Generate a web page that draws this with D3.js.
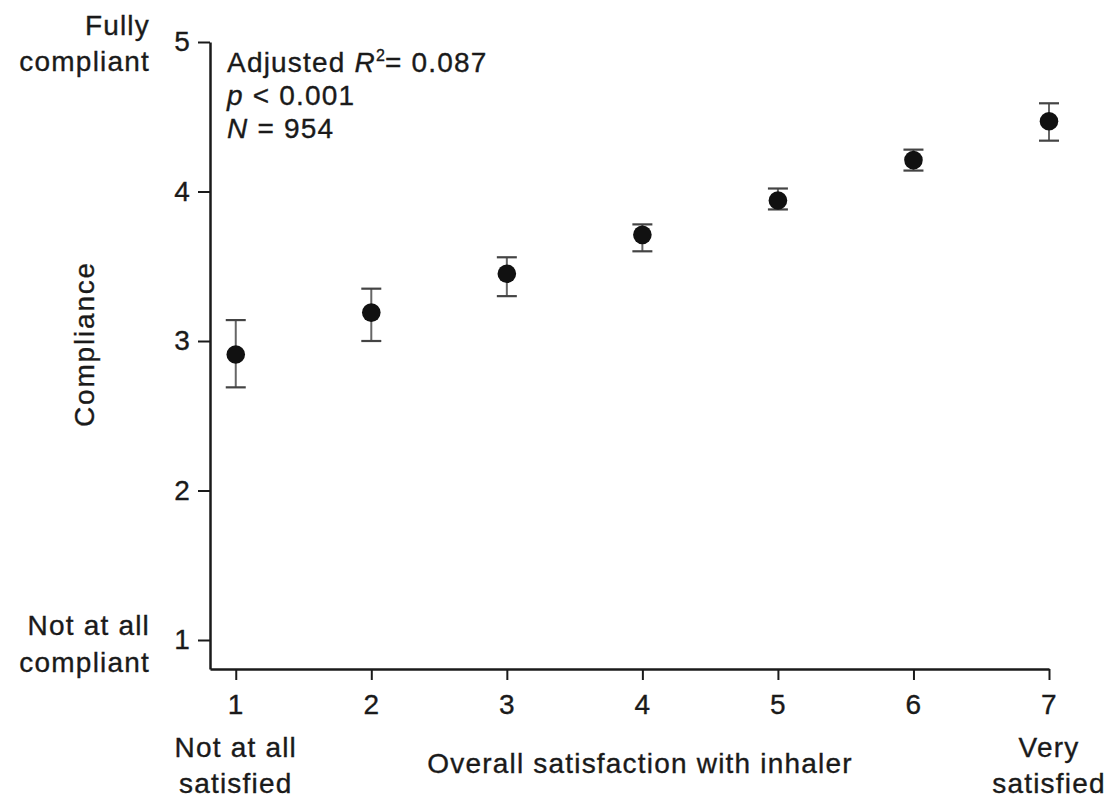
<!DOCTYPE html>
<html>
<head>
<meta charset="utf-8">
<script src="https://cdn.jsdelivr.net/npm/d3@7"></script>
<style>
  html, body { margin: 0; padding: 0; background: #fff; }
  svg { display: block; }
  text { font-family: "Liberation Sans", Arial, Helvetica, sans-serif; fill: #1a1a1a; stroke: #1a1a1a; stroke-width: 0.35px; }
</style>
</head>
<body>
<svg id="chart" width="1111" height="799"></svg>
<script>
// Satisfaction levels (1 = not at all satisfied ... 7 = very satisfied)
const satisfaction = [1, 2, 3, 4, 5, 6, 7];
// Mean compliance score for each satisfaction level
const meanCompliance = [2.91, 3.19, 3.45, 3.71, 3.94, 4.21, 4.47];
// Confidence interval bounds
const ciLower = [2.69, 3.00, 3.30, 3.60, 3.88, 4.14, 4.34];
const ciUpper = [3.14, 3.35, 3.56, 3.78, 4.02, 4.28, 4.59];
// Axis ticks
const xTicks = [1, 2, 3, 4, 5, 6, 7];
const yTicks = [1, 2, 3, 4, 5];

const FS = 28;
const LS = "1.2px";
const ink = "#1a1a1a";

const svg = d3.select("#chart");

const x = d3.scaleLinear().domain([0.81, 7]).range([210, 1049]);
const y = d3.scaleLinear().domain([0.806, 5]).range([669, 42]);

// Axes
const yAxis = svg.append("g")
  .attr("transform", `translate(${x.range()[0]},0)`)
  .call(d3.axisLeft(y).tickValues(yTicks).tickFormat(d3.format("d"))
    .tickSize(12).tickSizeOuter(0).tickPadding(7));
const xAxis = svg.append("g")
  .attr("transform", `translate(0,${y.range()[0]})`)
  .call(d3.axisBottom(x).tickValues(xTicks).tickFormat(d3.format("d"))
    .tickSize(11).tickSizeOuter(0).tickPadding(14));

[yAxis, xAxis].forEach(g => {
  g.select(".domain").attr("stroke", ink).attr("stroke-width", 2.5);
  g.selectAll(".tick line").attr("stroke", ink).attr("stroke-width", 2);
  g.selectAll(".tick text")
    .style("font-family", "'Liberation Sans', Arial, sans-serif")
    .style("font-size", FS + "px")
    .style("letter-spacing", LS)
    .attr("fill", ink);
});

// Error bars
const bars = svg.append("g");
satisfaction.forEach((s, i) => {
  const cx = x(s);
  bars.append("line")
    .attr("x1", cx).attr("x2", cx)
    .attr("y1", y(ciLower[i])).attr("y2", y(ciUpper[i]))
    .attr("stroke", "#666").attr("stroke-width", 2);
  [ciLower[i], ciUpper[i]].forEach(v => {
    bars.append("line")
      .attr("x1", cx - 10).attr("x2", cx + 10)
      .attr("y1", y(v)).attr("y2", y(v))
      .attr("stroke", "#444").attr("stroke-width", 2.2);
  });
});

// Mean points
svg.append("g").selectAll("circle")
  .data(satisfaction)
  .join("circle")
  .attr("cx", d => x(d))
  .attr("cy", (d, i) => y(meanCompliance[i]))
  .attr("r", 9.3)
  .attr("fill", "#111");

// Helper for multi-line labels
function label(lines, xPos, yStart, lineH, anchor) {
  const t = svg.append("text")
    .attr("text-anchor", anchor)
    .style("font-size", FS + "px")
    .style("letter-spacing", LS);
  lines.forEach((ln, k) => {
    t.append("tspan").attr("x", xPos).attr("y", yStart + k * lineH).text(ln);
  });
  return t;
}

// Y-axis end labels
label(["Fully", "compliant"], 150, 35, 36, "end");
label(["Not at all", "compliant"], 150, 635, 37, "end");

// X-axis end labels
label(["Not at all", "satisfied"], x(1), 757, 36, "middle");
label(["Very", "satisfied"], x(7), 757, 36, "middle");

// Axis titles
svg.append("text")
  .attr("text-anchor", "middle")
  .attr("x", 640).attr("y", 773)
  .style("font-size", FS + "px").style("letter-spacing", LS)
  .text("Overall satisfaction with inhaler");

svg.append("text")
  .attr("text-anchor", "middle")
  .attr("transform", "translate(94,344) rotate(-90)")
  .style("font-size", FS + "px").style("letter-spacing", "1.8px")
  .text("Compliance");

// Model statistics
const stats = svg.append("text")
  .style("font-size", FS + "px").style("letter-spacing", LS);
const l1 = stats.append("tspan").attr("x", 227).attr("y", 72);
l1.append("tspan").text("Adjusted ");
l1.append("tspan").style("font-style", "italic").text("R");
l1.append("tspan").attr("dy", -11).style("font-size", "16px").style("letter-spacing", "0px").text("2");
l1.append("tspan").attr("dy", 11).text("= 0.087");
const l2 = stats.append("tspan").attr("x", 227).attr("y", 105);
l2.append("tspan").style("font-style", "italic").text("p");
l2.append("tspan").text(" < 0.001");
const l3 = stats.append("tspan").attr("x", 227).attr("y", 138);
l3.append("tspan").style("font-style", "italic").text("N");
l3.append("tspan").text(" = 954");
</script>
</body>
</html>
